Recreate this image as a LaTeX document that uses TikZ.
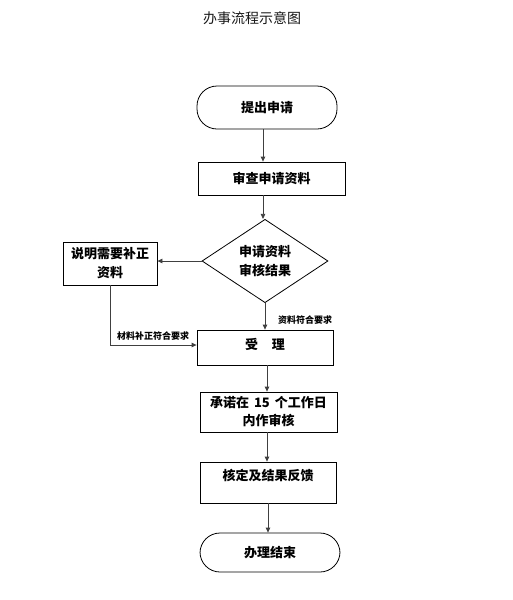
\documentclass[tikz,border=0pt]{standalone}
\usepackage{fontspec}
\newfontfamily\cjk{Noto Sans CJK SC}
\usetikzlibrary{shapes.geometric,arrows.meta}
\begin{document}
\begin{tikzpicture}[x=1pt,y=-1pt,
  every node/.style={font=\cjk\bfseries\fontsize{13}{19}\selectfont, text=black},
  box/.style={draw=black, line width=0.8pt, inner sep=0pt, align=center},
  term/.style={box, rounded corners=20pt},
  dec/.style={draw=black, line width=0.8pt, diamond, inner sep=0pt, align=center},
  conn/.style={draw=black!75, line width=0.8pt, -{Triangle[length=5pt,width=4.5pt]}},
  lbl/.style={font=\cjk\bfseries\fontsize{9}{11}\selectfont, inner sep=0pt}]
\useasboundingbox[fill=white] (0,0) rectangle (513,600);
\node[font=\cjk\fontsize{14}{16}\selectfont, text=black!90] (title) at (252,18) {办事流程示意图};
\node[term, minimum width=140pt, minimum height=43pt] (start) at (267,107.5) {提出申请};
\node[box, minimum width=147pt, minimum height=33pt] (check) at (271.5,178.5) {审查申请资料};
\node[dec, minimum width=126pt, minimum height=78pt] (dia) at (265,261) {申请资料\\审核结果};
\node[box, minimum width=94pt, minimum height=43pt] (fix) at (110,263.5) {说明需要补正\\资料};
\node[box, minimum width=136pt, minimum height=35pt, text depth=8pt] (acc) at (265,347.5) {受\hspace{14pt}理};
\node[box, minimum width=137pt, minimum height=40pt, font=\cjk\bfseries\fontsize{13}{18}\selectfont] (prom) at (268.5,412) {承诺在\hspace{5pt}15\hspace{5pt}个工作日\\内作审核};
\node[box, minimum width=136pt, minimum height=41pt, text depth=15pt] (feed) at (268,482.5) {核定及结果反馈};
\node[term, minimum width=140pt, minimum height=39pt] (end) at (270,552.5) {办理结束};
\coordinate (corner) at (fix.south |- 0,345);
\draw[conn] ([xshift=-4pt]start.south) -- ([xshift=-4pt]start.south |- check.north);
\draw[conn] ([xshift=-8.5pt]check.south) -- ([xshift=-8.5pt]check.south |- dia.north);
\draw[conn] (dia.west) -- (dia.west -| fix.east);
\draw[conn] (dia.south) -- (dia.south |- acc.north);
\draw[conn] (fix.south) -- (corner) -- (corner -| acc.west);
\draw[conn] ([xshift=2pt]acc.south) -- ([xshift=2pt]acc.south |- prom.north);
\draw[conn] ([xshift=-1.5pt]prom.south) -- ([xshift=-1.5pt]prom.south |- feed.north);
\draw[conn] (feed.south) -- (feed.south |- end.north);
\node[lbl] (l1) at (305,320) {资料符合要求};
\node[lbl] (l2) at (153,336) {材料补正符合要求};
\end{tikzpicture}
\end{document}
